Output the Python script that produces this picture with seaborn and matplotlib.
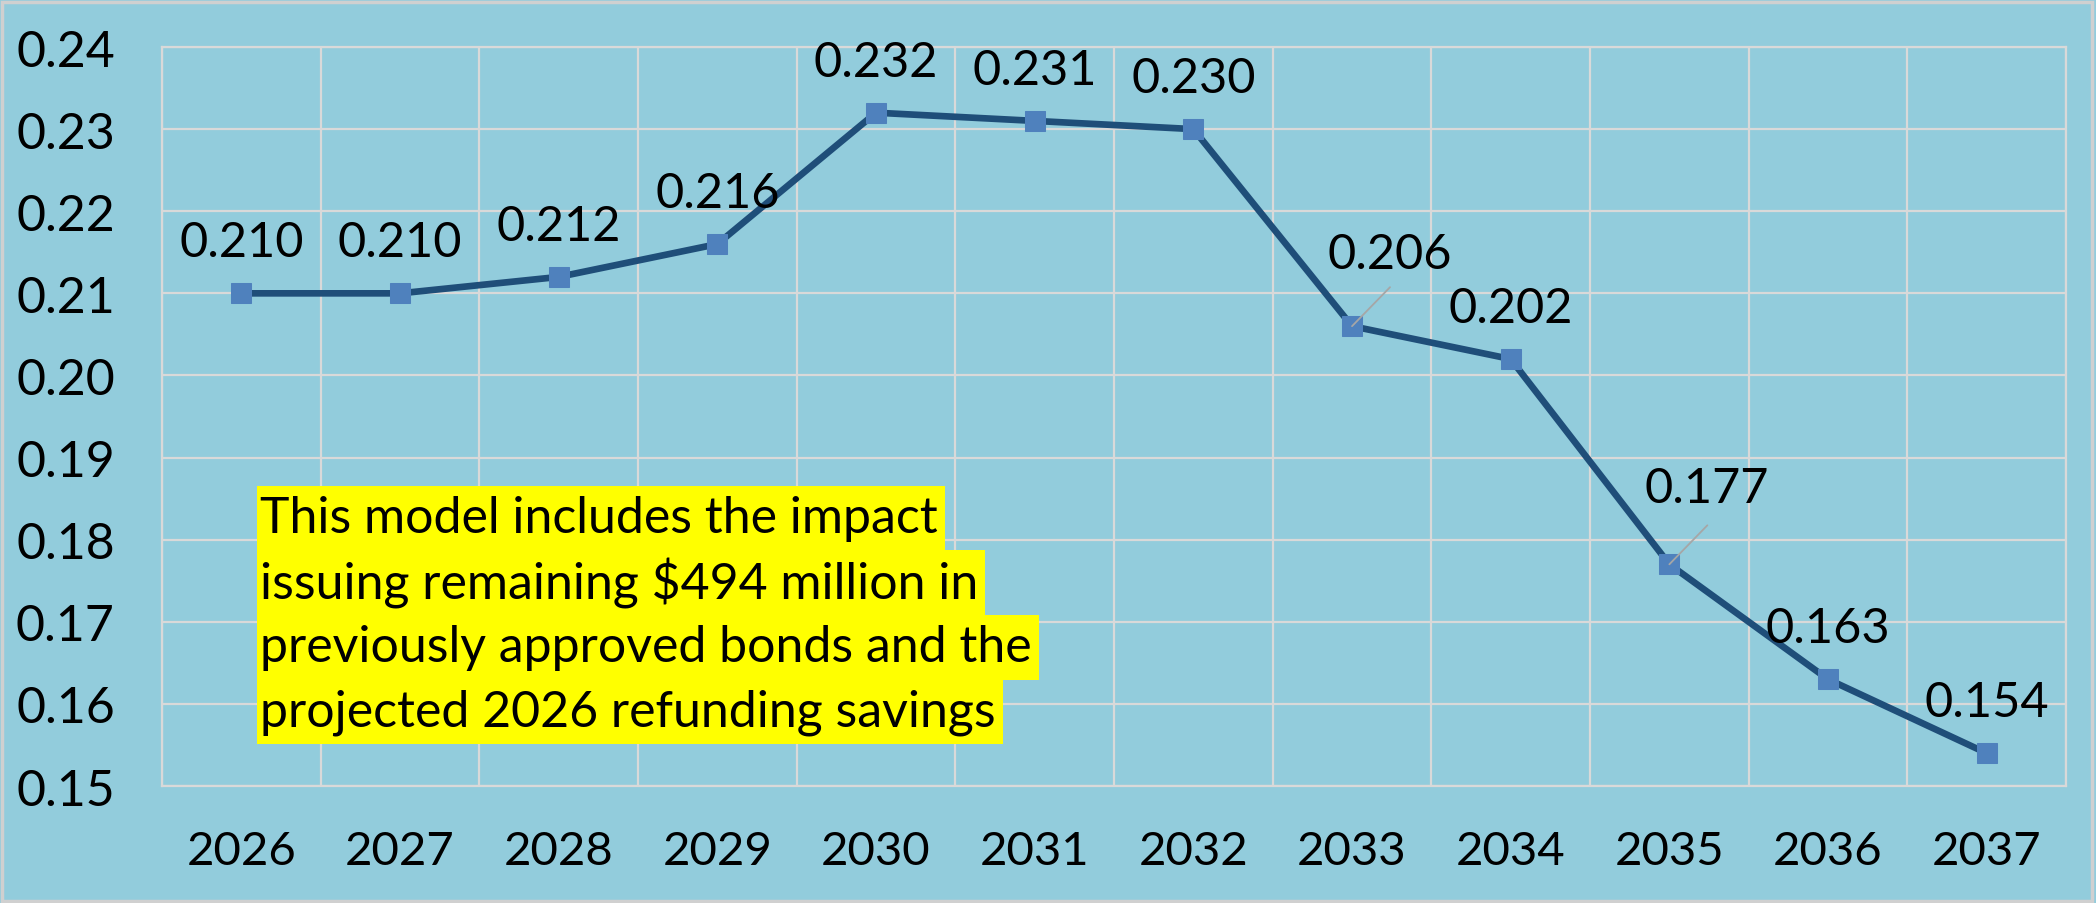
import numpy as np
import seaborn as sns
import matplotlib.pyplot as plt
from matplotlib.patches import Rectangle

# данные
years = ['2026', '2027', '2028', '2029', '2030', '2031',
         '2032', '2033', '2034', '2035', '2036', '2037']
rates = [0.210, 0.210, 0.212, 0.216, 0.232, 0.231,
         0.230, 0.206, 0.202, 0.177, 0.163, 0.154]
y_ticks = [0.15, 0.16, 0.17, 0.18, 0.19, 0.20, 0.21, 0.22, 0.23, 0.24]
note_lines = ['This model includes the impact',
              'issuing remaining $494 million in',
              'previously approved bonds and the',
              'projected 2026 refunding savings']

bg = '#92CCDC'
grid_c = '#D9D9D9'

sns.set_style('white')
plt.rcParams['font.family'] = ['Lato', 'DejaVu Sans']

W, H = 2096, 904
fig = plt.figure(figsize=(W / 100, H / 100), dpi=100, facecolor=bg)
ax = fig.add_axes([0.0773, 0.1294, 0.9084, 0.8175])
ax.set_facecolor(bg)

sns.lineplot(x=years, y=rates, ax=ax, color='#1F4E79', linewidth=4.8,
             marker='s', markersize=14, markerfacecolor='#4F81BD',
             markeredgecolor='#4F81BD', zorder=3)

ax.set_xlim(-0.5, len(years) - 0.5)
ax.set_ylim(0.15, 0.24)
ax.set_yticks(y_ticks)
ax.set_yticklabels([f'{t:.2f}' for t in y_ticks])
ax.set_xticks(range(len(years)))
ax.set_xticklabels(years)
ax.set_xticks(np.arange(-0.5, len(years)), minor=True)

ax.grid(False)
ax.grid(True, which='minor', axis='x', color=grid_c, linewidth=1.6, zorder=0)
ax.grid(True, which='major', axis='y', color=grid_c, linewidth=1.6, zorder=0)
for s in ax.spines.values():
    s.set_color(grid_c)
    s.set_linewidth(1.6)

ax.tick_params(axis='both', which='both', length=0, labelcolor='black')
ax.tick_params(axis='y', labelsize=36, pad=34)
ax.tick_params(axis='x', labelsize=34, pad=32)
ax.set_xlabel('')
ax.set_ylabel('')

# подписи значений (две сдвинуты вправо с выноской)
shifted = {'2033': (38, 72), '2035': (37, 76)}
for i, (yr, v) in enumerate(zip(years, rates)):
    dx, dy = shifted.get(yr, (0, 51))
    ax.annotate(f'{v:.3f}', xy=(i, v), xytext=(dx, dy),
                textcoords='offset pixels', ha='center', va='center',
                fontsize=35, color='black', zorder=4)
    if yr in shifted:
        ax.annotate('', xy=(i, v), xytext=(38, 39),
                    textcoords='offset pixels',
                    arrowprops=dict(arrowstyle='-', color='#A6A6A6', lw=1.3,
                                    shrinkA=0, shrinkB=0), zorder=4)

# примечание с жёлтой подсветкой по строкам
pitch = 64.5
top = 487
texts = []
for k, line in enumerate(note_lines):
    t = fig.text(260 / W, 1 - (top + pitch / 2 + k * pitch) / H, line,
                 ha='left', va='center', fontsize=36, color='black', zorder=6)
    texts.append(t)

fig.canvas.draw()
renderer = fig.canvas.get_renderer()
for k, t in enumerate(texts):
    bb = t.get_window_extent(renderer)
    y0 = H - (top + (k + 1) * pitch)
    fig.patches.append(Rectangle(((bb.x0 - 3) / W, y0 / H),
                                 (bb.width + 10) / W, (pitch + 0.5) / H,
                                 transform=fig.transFigure, facecolor='yellow',
                                 edgecolor='none', zorder=5))

# рамка вокруг рисунка
fig.patches.append(Rectangle((0.001, 0.002), 0.997, 0.995,
                             transform=fig.transFigure, fill=False,
                             edgecolor='#D0D0D0', linewidth=2.5))

plt.savefig('out.png', dpi=100, facecolor=bg)
plt.close()
